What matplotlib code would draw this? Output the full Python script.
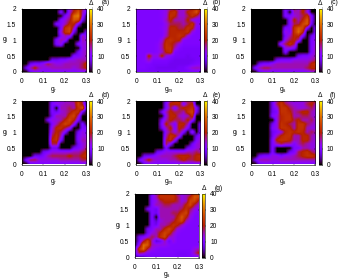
import matplotlib
matplotlib.use('Agg')
import matplotlib.pyplot as plt
import numpy as np

plt.rcParams['font.family'] = ['Liberation Sans', 'DejaVu Sans']
plt.rcParams['mathtext.default'] = 'regular'

# x = 0, .02 ... .30   rows run from g = 2 at the top down to g = 0
x_vals = [0.0, 0.02, 0.04, 0.06, 0.08, 0.10, 0.12, 0.14, 0.16, 0.18, 0.20, 0.22, 0.24, 0.26, 0.28, 0.30]
y_vals = [2.0, 1.875, 1.75, 1.625, 1.5, 1.375, 1.25, 1.125, 1.0, 0.875, 0.75, 0.625, 0.5, 0.375, 0.25, 0.125, 0.0]

delta_a = [
    [0,0,0,0,0,0,0,0,0,0,0,13,18,23,18,8],
    [0,0,0,0,0,0,0,0,0,10,0,13,21,28,15,8],
    [0,0,0,0,0,0,0,0,0,0,10,15,30,32,13,0],
    [0,0,0,0,0,0,0,0,0,10,13,18,28,26,8,0],
    [0,0,0,0,0,0,0,0,10,10,15,21,21,10,0,0],
    [0,0,0,0,0,0,0,0,0,10,23,26,15,0,0,0],
    [0,0,0,0,0,0,0,0,0,13,23,26,8,0,0,10],
    [0,0,0,0,0,0,0,0,0,10,15,13,0,0,15,10],
    [0,0,0,0,0,0,0,0,10,15,13,0,0,0,15,13],
    [0,0,0,0,0,0,0,0,10,13,0,0,0,10,13,13],
    [0,0,0,0,0,0,0,0,0,0,0,0,0,0,13,13],
    [0,0,0,0,0,0,0,0,0,0,0,0,0,8,13,15],
    [0,0,0,0,0,0,0,0,0,0,0,0,10,10,13,15],
    [0,0,0,0,0,0,0,8,8,10,10,13,13,15,15,15],
    [0,0,8,10,10,13,18,15,13,13,15,15,15,15,18,23],
    [0,8,15,21,15,13,13,15,15,15,15,15,13,15,18,21],
    [0,0,8,10,10,10,10,10,10,10,10,10,10,10,10,10],
]
delta_b = [
    [11,11,11,11,11,11,11,13,15,15,15,14,15,18,23,23],
    [10,10,10,10,10,10,11,13,21,23,14,14,21,23,28,15],
    [10,10,10,10,10,10,11,13,23,21,14,14,18,23,18,13],
    [10,10,10,10,10,10,11,15,21,15,15,15,21,13,11,11],
    [10,10,10,10,10,10,10,13,18,18,18,15,18,23,13,11],
    [10,10,10,10,10,10,11,13,21,21,18,18,23,21,11,10],
    [10,10,10,10,10,10,10,14,21,21,21,21,23,13,10,10],
    [10,10,10,10,10,10,10,15,21,21,23,21,13,10,10,10],
    [10,10,10,10,10,10,13,21,23,21,21,11,10,10,10,10],
    [10,10,10,10,10,11,15,23,21,18,13,10,10,10,10,10],
    [10,10,10,10,10,11,15,23,23,15,10,9,9,9,9,9],
    [10,10,10,10,10,11,14,21,23,10,9,9,9,9,9,9],
    [10,10,10,21,13,13,21,13,11,9,9,9,8,9,9,9],
    [10,10,11,15,10,10,10,10,9,8,8,8,8,8,9,9],
    [10,10,10,10,9,9,9,9,8,8,8,8,8,9,10,11],
    [10,10,10,9,9,8,8,8,8,8,9,9,11,14,15,14],
    [9,9,9,9,9,9,9,9,9,9,9,9,9,9,9,9],
]
delta_c = [
    [0,0,0,0,0,0,0,0,10,10,18,13,21,15,0,0],
    [0,0,0,0,0,0,0,0,10,0,15,15,21,13,0,0],
    [0,0,0,0,0,0,0,0,10,10,13,15,18,23,10,0],
    [0,0,0,0,0,0,0,0,0,10,21,15,21,28,10,0],
    [0,0,0,0,0,0,0,0,0,10,18,18,26,28,8,0],
    [0,0,0,0,0,0,0,0,10,10,23,28,26,10,0,10],
    [0,0,0,0,0,0,0,0,13,10,23,30,21,0,0,10],
    [0,0,0,0,0,0,0,0,10,15,21,21,10,0,8,13],
    [0,0,0,0,0,0,0,0,13,18,21,15,0,0,10,13],
    [0,0,0,0,0,0,0,13,18,23,18,0,0,0,10,13],
    [0,0,0,0,0,0,0,0,13,13,10,0,0,0,10,15],
    [0,0,0,0,0,0,0,0,10,0,0,0,0,0,10,15],
    [0,0,0,0,0,0,0,0,0,0,0,8,10,10,13,15],
    [0,0,0,0,0,0,8,10,10,10,13,13,13,13,15,18],
    [0,0,8,10,10,13,15,15,15,15,15,15,15,15,21,23],
    [0,10,15,18,18,15,15,15,15,15,15,15,15,18,21,21],
    [0,0,8,10,10,10,10,10,10,10,10,10,10,10,13,13],
]
delta_d = [
    [0,0,0,0,0,0,0,8,10,13,13,15,18,23,18,0],
    [0,0,0,0,0,0,0,10,13,13,15,15,15,26,18,0],
    [0,0,0,0,0,0,0,10,0,15,15,18,15,23,28,0],
    [0,0,0,0,0,0,0,10,8,13,15,18,23,23,8,0],
    [0,0,0,0,0,0,0,8,15,15,15,23,26,15,0,0],
    [0,0,0,0,0,0,8,13,13,15,21,26,21,10,0,0],
    [0,0,0,0,0,0,0,10,15,21,26,23,13,0,10,0],
    [0,0,0,0,0,0,0,13,21,23,18,13,0,0,10,10],
    [0,0,0,0,0,0,0,15,21,18,10,0,0,8,13,10],
    [0,0,0,0,0,0,0,18,23,15,0,0,0,10,13,13],
    [0,0,0,0,0,0,0,21,23,10,0,0,0,10,15,15],
    [0,0,0,0,0,0,0,18,18,0,0,0,0,8,13,15],
    [0,0,0,0,0,0,0,8,8,0,0,0,8,10,13,18],
    [0,0,0,0,0,8,10,13,13,13,13,13,15,15,18,21],
    [0,0,0,8,8,10,15,18,18,18,18,21,18,18,21,23],
    [0,10,18,18,13,13,13,13,13,15,15,15,15,15,18,18],
    [0,0,8,8,10,10,10,10,10,10,10,10,10,10,10,10],
]
delta_e = [
    [0,0,0,0,0,0,0,8,15,21,21,18,18,15,0,0],
    [0,0,0,0,0,0,0,10,21,21,21,10,18,21,0,0],
    [0,0,0,0,0,0,0,10,18,10,18,21,21,23,10,0],
    [0,0,0,0,0,0,8,15,21,18,18,15,23,26,8,0],
    [0,0,0,0,0,0,0,13,21,21,15,13,15,23,0,0],
    [0,0,0,0,0,0,8,15,21,18,18,15,21,13,0,0],
    [0,0,0,0,0,0,10,21,15,10,21,21,15,0,0,10],
    [0,0,0,0,0,0,8,15,21,10,21,18,10,0,0,10],
    [0,0,0,0,0,0,0,13,18,13,18,10,0,13,0,10],
    [0,0,0,0,0,0,0,15,23,21,13,0,0,0,8,13],
    [0,0,0,0,0,0,0,18,23,13,0,0,0,0,10,15],
    [0,0,0,0,0,0,0,18,10,0,0,0,0,8,13,15],
    [0,0,0,0,0,0,0,10,0,0,0,0,8,10,13,15],
    [0,0,0,0,0,8,10,13,13,13,13,13,15,15,18,15],
    [0,0,8,8,10,13,15,15,15,18,21,21,21,18,21,23],
    [0,10,15,21,15,13,13,13,15,15,18,21,18,18,21,21],
    [0,0,8,10,10,10,10,10,10,10,10,10,10,10,10,10],
]
delta_f = [
    [0,0,0,0,0,8,15,21,15,13,13,13,13,15,18,23],
    [0,0,0,0,0,8,18,23,18,15,13,13,13,18,21,15],
    [0,0,0,0,0,8,13,23,23,18,15,13,13,15,18,13],
    [0,0,0,0,0,8,10,23,23,21,15,18,21,21,15,13],
    [0,0,0,0,0,10,13,21,23,23,15,15,18,18,15,13],
    [0,0,0,0,0,0,13,21,23,23,18,21,15,15,18,13],
    [0,0,0,0,0,8,13,23,21,18,15,23,23,18,15,13],
    [0,0,0,0,0,10,13,23,23,21,15,23,23,15,13,13],
    [0,0,0,0,0,8,10,13,21,23,21,23,21,15,18,15],
    [0,0,0,0,0,8,15,21,23,23,15,15,21,21,15,13],
    [0,0,0,0,0,10,21,23,23,21,15,15,21,21,15,13],
    [0,0,0,0,0,10,15,18,15,15,10,15,18,15,13,13],
    [0,0,0,0,0,10,0,0,0,0,10,10,15,15,13,13],
    [0,0,0,0,0,10,0,0,0,8,10,18,21,23,18,15],
    [0,0,8,10,10,13,13,10,13,13,15,18,21,23,23,21],
    [0,8,15,15,15,13,13,15,15,15,15,15,15,15,15,15],
    [0,0,8,10,10,10,10,10,10,10,10,10,10,10,10,10],
]
delta_g = [
    [0,0,0,0,8,15,21,21,21,21,15,13,13,15,23,26],
    [0,0,0,0,10,15,23,23,23,23,18,13,15,21,28,26],
    [0,0,0,0,10,13,18,21,21,21,18,13,15,26,26,18],
    [0,0,0,0,10,15,15,18,18,15,15,15,21,26,18,13],
    [0,0,0,8,10,8,15,15,15,15,15,18,23,18,13,11],
    [0,0,0,0,10,8,15,15,15,18,18,23,26,15,11,10],
    [0,0,0,0,10,0,15,15,15,15,21,28,21,13,10,10],
    [0,0,0,0,10,6,13,15,15,18,23,26,15,11,10,10],
    [0,0,0,0,10,8,15,15,18,23,21,15,11,10,10,10],
    [0,0,0,8,10,15,15,21,26,21,13,11,10,10,10,10],
    [0,0,0,8,13,15,21,26,23,15,11,10,10,10,10,10],
    [0,8,10,13,18,15,23,26,15,13,10,10,10,10,10,10],
    [0,8,18,26,15,6,8,15,8,13,10,10,10,10,10,10],
    [0,13,30,28,15,13,13,13,11,10,10,10,10,10,10,10],
    [8,23,30,18,13,11,10,10,10,10,10,10,10,10,13,15],
    [8,18,15,11,10,10,10,10,10,10,9,9,9,10,15,21],
    [4,4,5,8,9,9,9,9,9,9,9,9,9,9,10,10],
]

panel_data = [delta_a, delta_b, delta_c, delta_d, delta_e, delta_f, delta_g]
letters = ['(a)', '(b)', '(c)', '(d)', '(e)', '(f)', '(g)']
xlabels = ['r', 'm', 's', 'r', 'm', 's', 's']
xticks = [0, 0.1, 0.2, 0.3]
xticklabels = ['0', '0.1', '0.2', '0.3']
yticks = [0, 0.5, 1, 1.5, 2]
yticklabels = ['0', '0.5', '1', '1.5', '2']
cticks = [0, 10, 20, 30, 40]

W, H = 339, 280
# left, top edge of each heat map in pixels
corners = [(22, 8.5), (136.3, 8.5), (251.3, 8.5), (22, 101), (136.3, 101), (251.3, 101), (135, 194)]
letter_dx = [19.5, 16.7, 19.3, 19.5, 16.7, 18, 20]
AW, AH = 64, 63.5
FS = 4.8

fig = plt.figure(figsize=(W / 100, H / 100), dpi=100)
dx = (x_vals[1] - x_vals[0]) / 2
dy = (y_vals[0] - y_vals[1]) / 2

for data, letter, xl, (px, py), ldx in zip(panel_data, letters, xlabels, corners, letter_dx):
    ax = fig.add_axes([px / W, 1 - (py + AH) / H, AW / W, AH / H])
    im = ax.imshow(np.array(data), cmap='gnuplot', vmin=0, vmax=40, aspect='auto',
                   interpolation='bilinear', interpolation_stage='data',
                   extent=(x_vals[0] - dx, x_vals[-1] + dx, y_vals[-1] - dy, y_vals[0] + dy))
    ax.set_xlim(0, 0.3)
    ax.set_ylim(0, 2)
    ax.set_xticks(xticks, xticklabels)
    ax.set_yticks(yticks, yticklabels)
    ax.tick_params(axis='x', labelsize=FS, length=1, width=0.3, pad=4.5, direction='in', top=True)
    ax.tick_params(axis='y', labelsize=FS, length=1, width=0.3, pad=4.2, direction='in', right=True)
    ax.set_xlabel('g$_{%s}$' % xl, fontsize=FS, labelpad=-0.5)
    ax.set_ylabel('g$_{l}$', fontsize=FS, labelpad=1, rotation=0, va='center')
    for s in ax.spines.values():
        s.set_linewidth(0.4)

    cax = fig.add_axes([(px + AW + 3.2) / W, 1 - (py + AH) / H, 3 / W, AH / H])
    cb = fig.colorbar(im, cax=cax, ticks=cticks)
    cb.ax.tick_params(labelsize=FS, length=1, width=0.3, pad=2.6)
    cb.outline.set_linewidth(0.4)

    fig.text((px + AW + 4.8) / W, 1 - (py - 5.3) / H, 'Δ', fontsize=FS, ha='center', va='center')
    fig.text((px + AW + ldx) / W, 1 - (py - 5.5) / H, letter, fontsize=FS, ha='center', va='center')

fig.savefig('out.png', dpi=100)
